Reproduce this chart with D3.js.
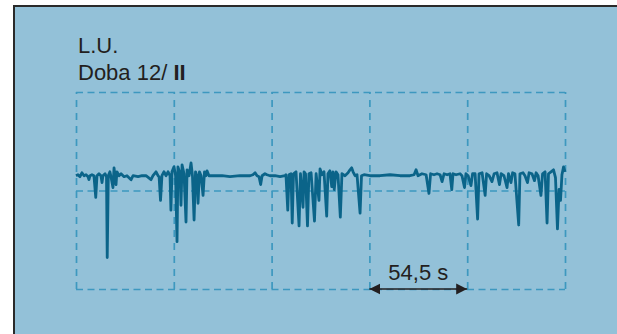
<!DOCTYPE html>
<html>
<head>
<meta charset="utf-8">
<script src="https://cdn.jsdelivr.net/npm/d3@7"></script>
<style>
  html, body { margin: 0; padding: 0; background: #fff; }
  svg { display: block; }
  text { font-family: "Liberation Sans", Arial, Helvetica, sans-serif; fill: #231f20; }
</style>
</head>
<body>
<div id="chart"></div>
<script>
// Recording trace: [seconds, level in grid rows (bottom line = 0, top line = 2)]
const trace = [
  [0,1.15],[1.1,1.16],[2.2,1.14],[3.3,1.18],[4.5,1.15],[5.6,1.16],[6.7,1.14],[7.2,1.11],[7.8,1.15],
  [8.9,1.16],[10.0,1.15],[11.0,0.93],[11.7,1.15],[12.8,1.17],[13.9,1.15],[14.5,1.08],[15.0,1.15],
  [16.2,1.17],[17.0,1.14],[17.4,0.32],[18.0,1.15],[18.9,1.19],[19.5,1.14],[20.6,1.03],[21.2,1.23],
  [21.7,1.15],[22.3,1.06],[22.8,1.19],[24.0,1.15],[25.1,1.17],[26.8,1.14],[28.4,1.15],[30.7,1.11],
  [31.8,1.15],[34.6,1.14],[36.8,1.15],[39.0,1.15],[41.8,1.11],[42.9,1.15],[44.6,1.19],[45.7,1.15],
  [46.3,1.14],[47.1,0.90],[47.9,1.15],[49.0,1.19],[50.2,1.15],[51.3,1.19],[52.4,1.15],[52.9,0.80],
  [53.5,1.19],[54.6,1.24],[55.5,1.15],[56.3,0.48],[56.8,1.24],[58.0,1.17],[58.5,0.85],[59.1,1.26],
  [60.2,1.17],[61.3,0.68],[61.9,1.21],[63.0,1.15],[64.1,1.28],[64.9,1.15],[65.8,0.70],[66.6,1.19],
  [67.4,1.15],[68.0,0.87],[68.8,1.19],[69.7,1.15],[70.8,0.95],[71.6,1.19],[72.4,1.15],[73.0,1.20],
  [74.1,1.15],[77.5,1.15],[81.4,1.15],[85.8,1.14],[91.4,1.15],[97.0,1.15],[98.6,1.16],[99.8,1.18],
  [100.9,1.15],[102.0,1.14],[102.9,1.06],[103.7,1.15],[105.3,1.17],[106.4,1.16],[108.1,1.15],
  [110.9,1.15],[113.7,1.14],[116.5,1.15],
  [117.0,1.16],[118.0,0.80],[118.7,1.16],[119.8,1.17],[120.5,0.67],[121.2,1.17],[122.6,1.19],
  [124.3,0.64],[125.1,1.17],[126.5,0.83],[127.1,1.19],[127.9,1.17],[129.0,0.64],[129.8,1.17],
  [131.0,1.18],[132.9,0.69],[133.8,1.17],[135.4,0.90],[136.0,1.22],[137.1,1.16],[138.2,1.19],
  [139.7,0.74],[140.4,1.17],[141.5,1.20],[142.5,1.04],[143.2,1.19],[143.9,1.01],[144.9,1.19],
  [146.0,1.16],[147.3,0.73],[148.2,1.17],[149.9,1.15],[151.6,1.18],[152.7,1.21],[153.6,1.23],
  [154.4,1.19],[155.5,1.15],[156.6,1.16],[158.3,0.77],[159.1,1.15],[160.5,1.16],
  [163.8,1.15],[169.4,1.15],[175.0,1.16],[180.6,1.15],[186.1,1.15],[188.4,1.16],
  [189.5,1.21],[190.6,1.15],[192.8,1.17],[195.1,1.16],[196.7,0.97],[197.6,1.17],[199.5,1.16],
  [201.2,1.17],[202.9,1.16],[204.0,1.09],[205.1,1.17],[206.8,1.16],[208.4,1.17],[209.4,1.01],
  [210.1,1.17],[211.8,1.16],[214.0,1.17],[215.1,1.15],[216.5,1.03],[217.3,1.17],[218.5,1.15],
  [220.1,1.05],[221.0,1.17],[222.4,1.17],[223.8,0.71],[224.6,1.17],[226.3,1.18],[228.0,0.95],
  [228.8,1.17],[230.2,1.15],[231.8,1.09],[233.0,1.17],[234.6,1.18],[236.0,1.06],[236.9,1.17],
  [238.5,1.15],[240.2,1.03],[241.0,1.17],[242.4,1.08],[243.3,1.18],[244.6,1.17],[246.7,0.65],
  [247.4,1.17],[249.1,1.18],[250.2,1.15],[251.6,1.08],[252.5,1.18],[254.1,1.17],[255.5,1.10],
  [256.4,1.18],[257.5,1.15],[259.1,0.95],[260.0,1.17],[261.4,1.19],[262.5,0.67],[263.3,1.17],
  [264.7,1.19],[266.1,1.21],[267.2,1.13],[268.3,0.61],[269.2,1.01],[270.0,0.90],[270.8,1.16],
  [271.7,1.24],[272.5,1.19]
];

const timeTicks = [0, 54.5, 109, 163.5, 218, 272.5];   // one grid column = 54,5 s
const levelTicks = [0, 1, 2];
const titleLines = ['L.U.', 'Doba 12/ '];
const titleRoman = 'II';
const spanFrom = 163.5, spanTo = 218;
const spanLabel = '54,5 s';

const W = 617, H = 334;
const margin = { top: 92, right: 52, bottom: 45, left: 76 };

const svg = d3.select('#chart').append('svg')
  .attr('width', W).attr('height', H);

// panel with dark top/left edge
svg.append('rect')
  .attr('x', 14).attr('y', 6).attr('width', W - 14).attr('height', H - 6)
  .attr('fill', '#93c1d8');
svg.append('path')
  .attr('d', `M14,${H} L14,6 L${W},6`)
  .attr('fill', 'none').attr('stroke', '#2a2a2a').attr('stroke-width', 2);

const x = d3.scaleLinear().domain([0, 272.5]).range([margin.left, W - margin.right]);
const y = d3.scaleLinear().domain([0, 2]).range([H - margin.bottom, margin.top]);

// dashed grid from the axes' tick lines
const gridColor = '#3d98bf';
const gx = svg.append('g')
  .attr('transform', `translate(0,${y(0)})`)
  .call(d3.axisBottom(x).tickValues(timeTicks).tickSize(-(y(0) - y(2))).tickFormat(''));
gx.select('.domain').remove();
gx.selectAll('line').attr('stroke', gridColor).attr('stroke-width', 1.7).attr('stroke-dasharray', '7,6');

const gy = svg.append('g')
  .attr('transform', `translate(${x(0)},0)`)
  .call(d3.axisLeft(y).tickValues(levelTicks).tickSize(-(x(272.5) - x(0))).tickFormat(''));
gy.select('.domain').remove();
gy.selectAll('line').attr('stroke', gridColor).attr('stroke-width', 1.7).attr('stroke-dasharray', '7,4.5');

// trace
const line = d3.line().x(d => x(d[0])).y(d => y(d[1]));
svg.append('path')
  .datum(trace)
  .attr('d', line)
  .attr('fill', 'none')
  .attr('stroke', '#0b6489')
  .attr('stroke-width', 2.8)
  .attr('stroke-linejoin', 'round');

// title
const t = svg.append('text').attr('font-size', 22);
t.append('tspan').attr('x', 78).attr('y', 53).text(titleLines[0]);
t.append('tspan').attr('x', 78).attr('y', 79.5).text(titleLines[1]);
t.append('tspan').attr('font-weight', 'bold').text(titleRoman);

// time span marker
const defs = svg.append('defs');
defs.append('marker')
  .attr('id', 'ah').attr('viewBox', '0 0 10 10').attr('refX', 10).attr('refY', 5)
  .attr('markerUnits', 'userSpaceOnUse').attr('markerWidth', 11).attr('markerHeight', 12)
  .attr('orient', 'auto-start-reverse')
  .append('path').attr('d', 'M0,0 L10,5 L0,10 Z').attr('fill', '#231f20');

svg.append('line')
  .attr('x1', x(spanFrom)).attr('x2', x(spanTo))
  .attr('y1', y(0)).attr('y2', y(0))
  .attr('stroke', '#231f20').attr('stroke-width', 1.6)
  .attr('marker-start', 'url(#ah)').attr('marker-end', 'url(#ah)');

svg.append('text')
  .attr('x', (x(spanFrom) + x(spanTo)) / 2).attr('y', 280)
  .attr('text-anchor', 'middle').attr('font-size', 22)
  .text(spanLabel);
</script>
</body>
</html>
